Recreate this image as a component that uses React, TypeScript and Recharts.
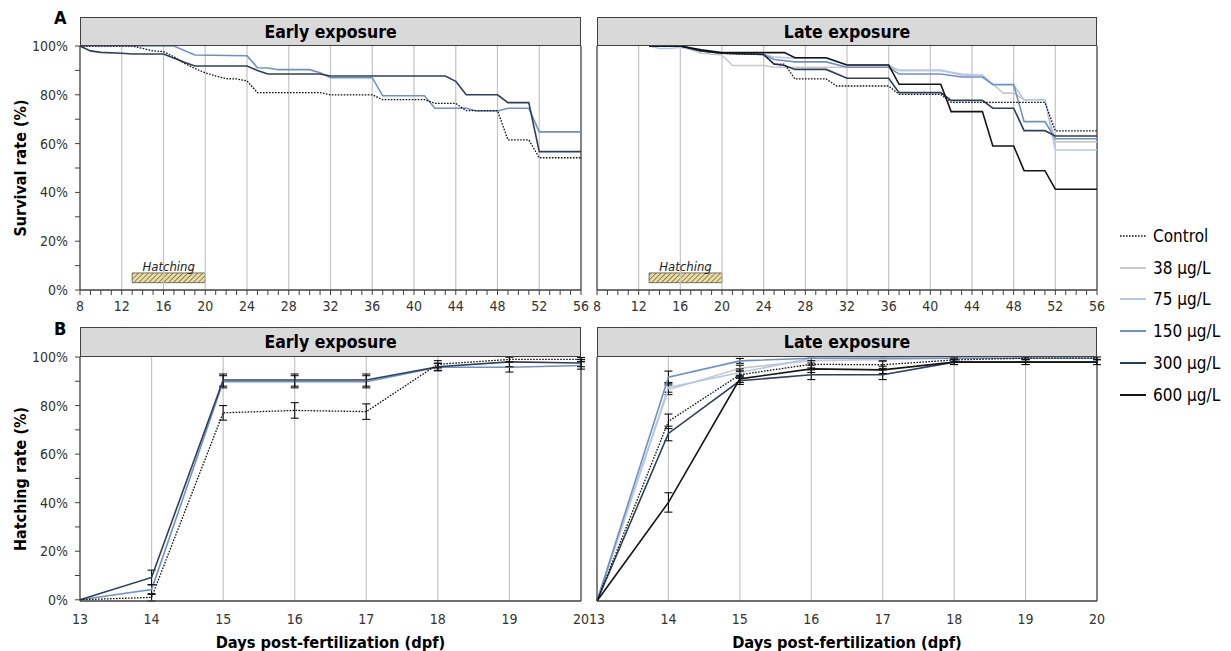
import React from 'react';
import { LineChart, Line, XAxis, YAxis, ReferenceLine, ReferenceArea, ErrorBar } from 'recharts';

const FONT = '"DejaVu Sans Condensed", "DejaVu Sans", Verdana, sans-serif';
const AX = '#404040';
const GRID = '#c4c4c4';
const TXT = '#333333';

// ---------- colours / series names ----------
const seriesNames = ['Control', '38 µg/L', '75 µg/L', '150 µg/L', '300 µg/L', '600 µg/L'];
const seriesColors = ['#111111', '#c9c9c9', '#b4c7e7', '#7190c6', '#2e3f5c', '#151515'];

// ---------- Panel A: survival, [day, %] ----------
const earlyControl = [[8,100],[13,100],[14,99],[15,98],[16,97.7],[17,95.6],[18,92.9],[19,90.8],[20,89],[21,87.7],[22,86.6],[23,86.5],[24,85.7],[25,80.9],[31,80.9],[32,80],[36,80],[37,78],[41,78],[42,76.5],[44,76.5],[45,73.5],[48,73.5],[49,61.5],[51,61.5],[52,54.2],[56,54.2]];
const early150 = [[8,100],[17,100],[19,96.3],[24,96],[25,91.1],[26,91],[27,90.3],[30,90.3],[31,89],[32,87],[36,87],[37,79.6],[41,79.6],[42,74.5],[45,74.5],[46,73.4],[48,73.4],[49,74.5],[51,74.5],[52,64.8],[56,64.8]];
const early300 = [[8,100],[9,98],[10,97.4],[12,97],[13,96.7],[16,96.7],[18,93.3],[19,91.8],[24,91.8],[25,90],[26,88.5],[31,88.5],[32,87.7],[43,87.7],[44,85.5],[45,80],[48,80],[49,76.8],[51,76.8],[52,56.7],[56,56.7]];

const lateControl = [[13,100],[16,100],[17,99],[18,98],[20,97],[24,96.5],[25,92.6],[26,92.6],[27,86.5],[30,86.5],[31,83.6],[36,83.6],[37,80.2],[41,80.2],[42,76.9],[51,76.9],[52,65.2],[56,65.2]];
const late38 = [[13,100],[16,100],[18,97],[20,96.3],[21,92],[24,92],[25,91.3],[36,91.3],[37,90],[41,90],[43,88],[45,88],[46,84.5],[47,80.7],[48,80.7],[49,78],[51,78],[52,60.7],[56,60.7]];
const late75 = [[13,100],[14,99],[15,99],[16,99.5],[18,98],[20,97],[24,96.5],[25,95.5],[27,95],[30,95],[32,92.2],[36,92.2],[37,90],[41,90],[43,88.5],[45,88],[46,84],[48,84],[49,78],[51,78],[52,57.4],[56,57.4]];
const late150 = [[13,100],[16,100],[18,98],[20,97],[24,96.5],[25,94.5],[27,93.5],[30,93.5],[32,91.3],[36,91.3],[37,88.5],[41,88.5],[43,87.3],[45,87.3],[46,84.2],[48,84.2],[49,69],[51,69],[52,62],[56,62]];
const late300 = [[13,100],[16,100],[18,98],[20,97],[24,96.5],[25,92.6],[26,92],[27,90.4],[30,90.4],[32,86.8],[36,86.8],[37,80.9],[41,80.9],[42,77.7],[45,77.7],[46,74.5],[48,74.5],[49,65.3],[51,65.3],[52,63.1],[56,63.1]];
const late600 = [[13,100],[16,100],[18,98.4],[20,97.3],[26,97.3],[27,95.2],[30,95.2],[32,92.2],[36,92.2],[37,84.3],[41,84.3],[42,73.1],[45,73.1],[46,59],[48,59],[49,48.9],[51,48.9],[52,41.3],[56,41.3]];

const survivalLabelTicks = [8, 12, 16, 20, 24, 28, 32, 36, 40, 44, 48, 52, 56];
const survivalGrid = [12, 16, 20, 24, 28, 32, 36, 40, 44, 48, 52];
const hatchingWindow = [13, 20];
const hatchingBand = [3, 7];

// ---------- Panel B: hatching ----------
const hatchDays = [13, 14, 15, 16, 17, 18, 19, 20];
const hatchGrid = [14, 15, 16, 17, 18, 19];
const hEarlyControl = [0, 1, 77, 78, 77.5, 97, 99, 99];
const hEarlyControlErr = [0, 1.5, 3, 3.2, 3.2, 1.5, 1, 0.8];
const hEarly150 = [0, 4.2, 89.8, 89.8, 89.8, 95.8, 95.8, 96.5];
const hEarly150Err = [0, 2, 2.5, 2.5, 2.5, 1.5, 2, 1.5];
const hEarly300 = [0, 9.2, 90.5, 90.5, 90.5, 96, 98, 97.5];
const hEarly300Err = [0, 3, 2.5, 2.5, 2.5, 1.5, 2, 1.5];

const hLateControl = [0, 74, 93.2, 97.5, 97.3, 99.3, 100, 100];
const hLateControlErr = [0, 3, 1.5, 1.5, 1.5, 0.8, 0.5, 0.5];
const hLate38 = [0, 87, 95.9, 99, 99.5, 100, 100, 100];
const hLate38Err = [0, 2, 1.2, 1, 0.5, 0, 0, 0];
const hLate75 = [0, 88, 94.1, 100, 100, 100, 100, 100];
const hLate75Err = [0, 2, 1.5, 0, 0, 0, 0, 0];
const hLate150 = [0, 92.2, 98.9, 100, 100, 100, 100, 100];
const hLate150Err = [0, 2.5, 1, 0, 0, 0, 0, 0];
const hLate300 = [0, 69, 90.7, 93.2, 93.2, 98.4, 98.4, 98.4];
const hLate300Err = [0, 3, 1.5, 2, 2, 1, 1, 1];
const hLate600 = [0, 40.6, 91.5, 95.6, 95.2, 98.4, 98.4, 98.4];
const hLate600Err = [0, 4, 1.5, 1.5, 1.5, 1, 1, 1];

const yTicks = [0, 10, 20, 30, 40, 50, 60, 70, 80, 90, 100];

// ---------- helpers ----------
const toRows = (pts: number[][]) => pts.map(([day, v]) => ({ day, v }));
const hRows = (vals: number[], errs: number[]) => hatchDays.map((day, i) => ({ day, v: vals[i], e: errs[i] }));
const minorDays = Array.from({ length: 49 }, (_, i) => i + 8);

const YTick = (props: any) => {
  const { x, y, payload } = props;
  if (payload.value % 20 !== 0) return <g />;
  return (
    <text x={x} y={y} dx={-5} dy={5} textAnchor="end" fontSize={14} fill={TXT} fontFamily={FONT}>
      {payload.value}%
    </text>
  );
};

const SurvXTick = (props: any) => {
  const { x, y, payload } = props;
  if (!survivalLabelTicks.includes(payload.value)) return <g />;
  return (
    <text x={x} y={y} dy={14} textAnchor="middle" fontSize={14} fill={TXT} fontFamily={FONT}>
      {payload.value}
    </text>
  );
};

const lineStyle = (idx: number) =>
  idx === 0
    ? { stroke: '#111', strokeWidth: 1.3, strokeDasharray: '1.6 1.4' }
    : { stroke: seriesColors[idx], strokeWidth: 1.6 };

const Header = ({ left, top, width, height, text }: any) => (
  <div
    style={{
      position: 'absolute', left, top, width, height, boxSizing: 'border-box',
      border: `1px solid ${AX}`, background: '#d9d9d9', display: 'flex',
      alignItems: 'center', justifyContent: 'center', fontFamily: FONT,
      fontWeight: 'bold', fontSize: 17.5, color: '#000',
    }}
  >
    {text}
  </div>
);

const SurvivalPanel = ({ left, width, mLeft, yWidth, mRight, series, showY, id }: any) => (
  <div style={{ position: 'absolute', left, top: 0 }}>
    <LineChart width={width} height={320} margin={{ top: 46, right: mRight, bottom: 0, left: mLeft }}>
      <defs>
        <pattern id={id} patternUnits="userSpaceOnUse" width="3.5" height="3.5" patternTransform="rotate(45)">
          <rect width="3.5" height="3.5" fill="#e9dea6" />
          <line x1="0" y1="0" x2="0" y2="3.5" stroke="#6e5f2a" strokeWidth="1.4" />
        </pattern>
      </defs>
      <XAxis
        dataKey="day" type="number" domain={[8, 56]} ticks={minorDays} interval={0}
        tick={<SurvXTick />} tickSize={5} height={30}
        axisLine={{ stroke: AX, strokeWidth: 1.3 }} tickLine={{ stroke: AX }}
      />
      <YAxis
        type="number" domain={[0, 100]} ticks={yTicks} interval={0} width={yWidth}
        tick={showY ? <YTick /> : false} tickSize={showY ? 5 : 0} tickLine={showY ? { stroke: AX } : false}
        axisLine={{ stroke: AX, strokeWidth: 1.3 }}
        label={showY ? { value: 'Survival rate (%)', angle: -90, position: 'insideLeft', offset: 10,
          style: { textAnchor: 'middle', fontWeight: 'bold', fontSize: 16, fill: '#000', fontFamily: FONT } } : undefined}
      />
      {survivalGrid.map((d) => (
        <ReferenceLine key={d} x={d} stroke={GRID} strokeWidth={1.2} />
      ))}
      <ReferenceLine x={56} stroke={AX} strokeWidth={1.3} />
      <ReferenceArea
        x1={hatchingWindow[0]} x2={hatchingWindow[1]} y1={hatchingBand[0]} y2={hatchingBand[1]}
        fill={`url(#${id})`} fillOpacity={1} stroke="#555" strokeWidth={0.8}
        label={{ value: 'Hatching', position: 'top', offset: 2, fontStyle: 'italic', fontSize: 13, fill: '#222', fontFamily: FONT }}
      />
      {series.map((s: any) => (
        <Line
          key={s.idx} data={toRows(s.pts)} dataKey="v" type="linear" dot={false}
          isAnimationActive={false} {...lineStyle(s.idx)}
        />
      ))}
    </LineChart>
  </div>
);

const HatchPanel = ({ left, width, mLeft, yWidth, mRight, series, showY }: any) => (
  <div style={{ position: 'absolute', left, top: 320 }}>
    <LineChart width={width} height={331} margin={{ top: 37, right: mRight, bottom: 0, left: mLeft }}>
      <XAxis
        dataKey="day" type="number" domain={[13, 20]} ticks={hatchDays} interval={0}
        tickLine={false} tickMargin={7} height={50}
        tick={{ fontSize: 14, fill: TXT, fontFamily: FONT }}
        axisLine={{ stroke: AX, strokeWidth: 1.3 }}
        label={{ value: 'Days post-fertilization (dpf)', position: 'insideBottom', offset: 3,
          style: { fontWeight: 'bold', fontSize: 16.3, fill: '#000', fontFamily: FONT } }}
      />
      <YAxis
        type="number" domain={[0, 100]} ticks={yTicks} interval={0} width={yWidth}
        tick={showY ? <YTick /> : false} tickSize={showY ? 5 : 0} tickLine={showY ? { stroke: AX } : false}
        axisLine={{ stroke: AX, strokeWidth: 1.3 }}
        label={showY ? { value: 'Hatching rate (%)', angle: -90, position: 'insideLeft', offset: 10,
          style: { textAnchor: 'middle', fontWeight: 'bold', fontSize: 16, fill: '#000', fontFamily: FONT } } : undefined}
      />
      {hatchGrid.map((d) => (
        <ReferenceLine key={d} x={d} stroke={GRID} strokeWidth={1.2} />
      ))}
      <ReferenceLine x={20} stroke={AX} strokeWidth={1.3} />
      {series.map((s: any) => (
        <Line
          key={s.idx} data={hRows(s.vals, s.errs)} dataKey="v" type="linear" dot={false}
          isAnimationActive={false} {...lineStyle(s.idx)}
        >
          <ErrorBar dataKey="e" width={4} stroke="#111" strokeWidth={1.1} direction="y" />
        </Line>
      ))}
    </LineChart>
  </div>
);

const Legend = () => (
  <div style={{ position: 'absolute', left: 1118, top: 220, fontFamily: FONT, fontSize: 17, color: '#000' }}>
    {seriesNames.map((name, i) => (
      <div key={name} style={{ display: 'flex', alignItems: 'center', height: 31.8 }}>
        <svg width={30} height={10} style={{ marginRight: 5 }}>
          <line x1={2} y1={5} x2={28} y2={5} {...lineStyle(i)} strokeWidth={i === 0 ? 1.4 : 2} />
        </svg>
        <span>{name}</span>
      </div>
    ))}
  </div>
);

export default function App() {
  return (
    <div style={{ position: 'absolute', left: 0, top: 0, width: 1231, height: 651, background: '#fff', overflow: 'hidden' }}>
      <SurvivalPanel
        left={0} width={595} mLeft={10} yWidth={70} mRight={14} showY id="hatchA"
        series={[{ idx: 3, pts: early150 }, { idx: 4, pts: early300 }, { idx: 0, pts: earlyControl }]}
      />
      <SurvivalPanel
        left={587} width={520} mLeft={0} yWidth={10} mRight={10} showY={false} id="hatchB"
        series={[
          { idx: 1, pts: late38 }, { idx: 2, pts: late75 }, { idx: 3, pts: late150 },
          { idx: 4, pts: late300 }, { idx: 5, pts: late600 }, { idx: 0, pts: lateControl },
        ]}
      />
      <HatchPanel
        left={0} width={595} mLeft={10} yWidth={70} mRight={14} showY
        series={[
          { idx: 3, vals: hEarly150, errs: hEarly150Err },
          { idx: 4, vals: hEarly300, errs: hEarly300Err },
          { idx: 0, vals: hEarlyControl, errs: hEarlyControlErr },
        ]}
      />
      <HatchPanel
        left={587} width={520} mLeft={0} yWidth={10} mRight={10} showY={false}
        series={[
          { idx: 1, vals: hLate38, errs: hLate38Err },
          { idx: 2, vals: hLate75, errs: hLate75Err },
          { idx: 3, vals: hLate150, errs: hLate150Err },
          { idx: 4, vals: hLate300, errs: hLate300Err },
          { idx: 5, vals: hLate600, errs: hLate600Err },
          { idx: 0, vals: hLateControl, errs: hLateControlErr },
        ]}
      />
      <Header left={80} top={17} width={501} height={29} text="Early exposure" />
      <Header left={597} top={17} width={500} height={29} text="Late exposure" />
      <Header left={80} top={327} width={501} height={30} text="Early exposure" />
      <Header left={597} top={327} width={500} height={30} text="Late exposure" />
      <div style={{ position: 'absolute', left: 54, top: 7, fontFamily: FONT, fontWeight: 'bold', fontSize: 18 }}>A</div>
      <div style={{ position: 'absolute', left: 54, top: 318, fontFamily: FONT, fontWeight: 'bold', fontSize: 18 }}>B</div>
      <Legend />
    </div>
  );
}
